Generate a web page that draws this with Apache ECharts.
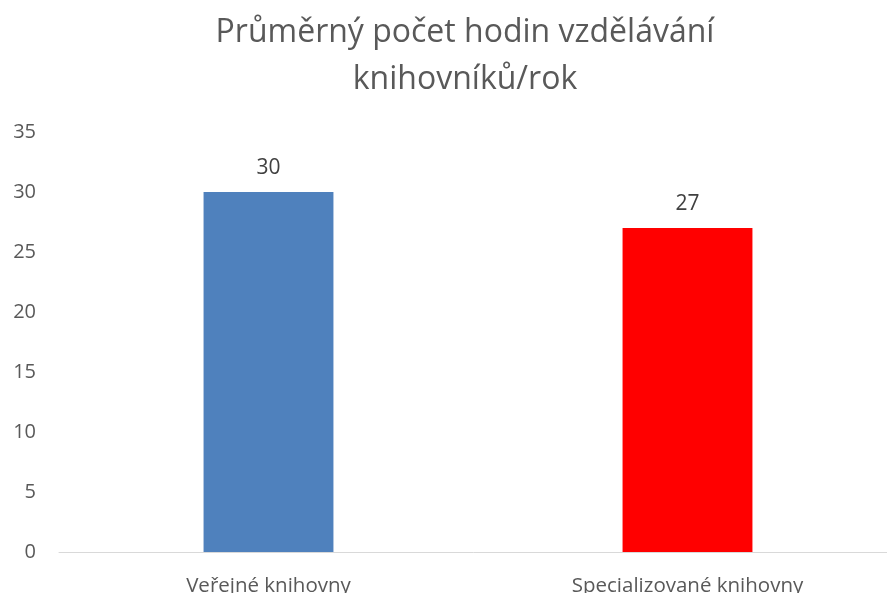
<!DOCTYPE html>
<html>
<head>
<meta charset="utf-8">
<script src="https://cdn.jsdelivr.net/npm/echarts@6/dist/echarts.min.js"></script>
<style>
html,body{margin:0;padding:0;background:#fff;}
#chart{width:887px;height:593px;}
</style>
</head>
<body>
<div id="chart"></div>
<script>
var categories = ['Veřejné knihovny', 'Specializované knihovny'];
var values = [30, 27];
var barColors = ['#4F81BD', '#FF0000'];

var chart = echarts.init(document.getElementById('chart'));
var option = {
    animation: false,
    textStyle: {fontFamily: 'Open Sans'},
    title: {
        text: 'Průměrný počet hodin vzdělávání\nknihovníků/rok',
        left: 460,
        textAlign: 'center',
        top: 4,
        textStyle: {fontSize: 32, fontWeight: 'normal', color: '#595959', lineHeight: 47, fontFamily: 'Open Sans'}
    },
    grid: {left: 59, right: -10, top: 132, bottom: 41, containLabel: false, outerBoundsMode: 'none'},
    xAxis: {
        type: 'category',
        data: categories,
        axisLine: {lineStyle: {color: '#D9D9D9', width: 1}},
        axisTick: {show: false},
        axisLabel: {color: '#595959', fontSize: 20.5, margin: 24}
    },
    yAxis: {
        type: 'value',
        min: 0, max: 35, interval: 5,
        splitLine: {show: false},
        axisLine: {show: false},
        axisTick: {show: false},
        axisLabel: {color: '#595959', fontSize: 20, margin: 23}
    },
    series: [{
        type: 'bar',
        barWidth: '31%',
        data: values.map(function (v, i) {
            return {value: v, itemStyle: {color: barColors[i]}};
        }),
        label: {show: true, position: 'top', distance: 13, color: '#404040', fontSize: 21}
    }]
};
chart.setOption(option);
</script>
</body>
</html>
